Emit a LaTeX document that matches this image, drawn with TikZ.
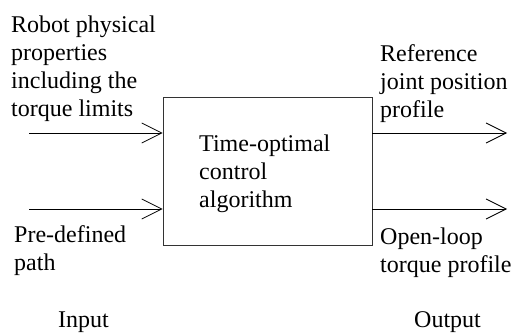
\documentclass[tikz,border=0pt]{standalone}
\usepackage{fontspec}
\setmainfont{Liberation Serif}
\usetikzlibrary{arrows.meta}
\begin{document}
\begin{tikzpicture}[x=1pt,y=-1pt,
  lbl/.style={inner sep=0pt, anchor=base west, align=left, font=\fontsize{24}{28}\selectfont},
  blk/.style={draw=black!80, line width=0.8pt, minimum width=209pt, minimum height=148pt, inner sep=0pt},
  flow/.style={line width=0.8pt, -{Straight Barb[length=20pt,width=20pt,line width=0.8pt]}}]
\useasboundingbox (0,0) rectangle (513,332);
\node[blk] (box) at (267.5,171) {};
\node[lbl] (boxtext) at (199,207) {Time-optimal\\control\\algorithm};
\coordinate (in1) at (29,133);
\coordinate (in2) at (29,209);
\coordinate (out1) at (507,133);
\coordinate (out2) at (507,209);
\draw[flow] (in1) -- (box.west |- in1);
\draw[flow] (in2) -- (box.west |- in2);
\draw[flow] (box.east |- out1) -- (out1);
\draw[flow] (box.east |- out2) -- (out2);
\node[lbl] (robot) at (11,116) {Robot physical\\properties\\including the\\torque limits};
\node[lbl] (path) at (14,270) {Pre-defined\\path};
\node[lbl] (input) at (58,327) {Input};
\node[lbl] (ref) at (380,117) {Reference\\joint position\\profile};
\node[lbl] (torque) at (380,272) {Open-loop\\torque profile};
\node[lbl] (output) at (414,327) {Output};
\end{tikzpicture}
\end{document}
